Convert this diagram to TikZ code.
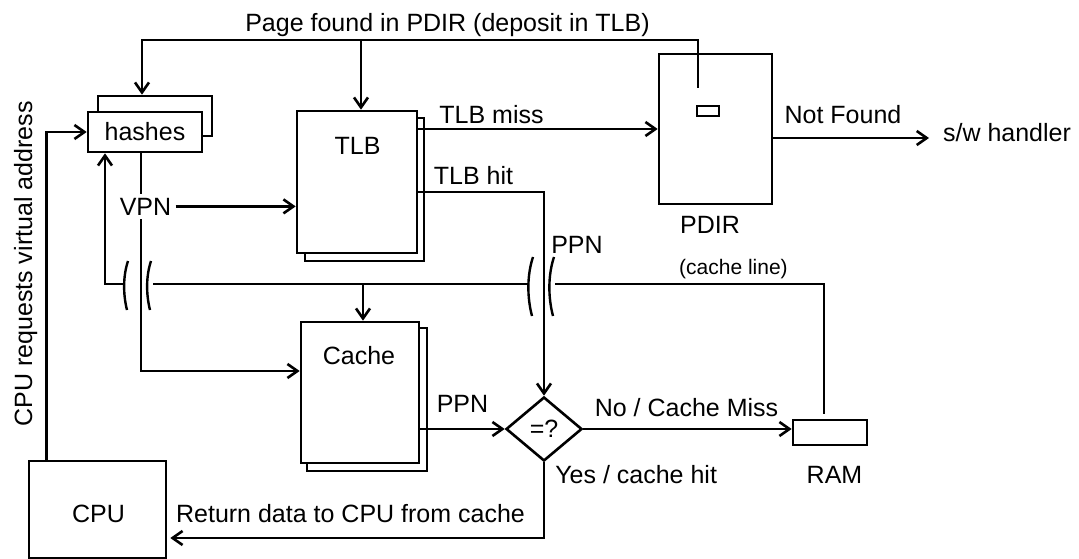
\documentclass[tikz,border=0pt]{standalone}
\usepackage{fontspec}
\setmainfont{Liberation Sans}
\usetikzlibrary{arrows.meta,shapes.geometric}
\begin{document}
\begin{tikzpicture}[x=1pt,y=-1pt,line width=2.6pt,
  txt/.style={font=\fontsize{25}{30}\selectfont},
  small/.style={font=\fontsize{21}{25}\selectfont},
  box/.style={draw,fill=white,rectangle,inner sep=0pt,txt},
  lbl/.style={txt,inner sep=0pt,anchor=base},
  arr/.style={-{Straight Barb[length=10pt,width=14pt]}},
  brk/.style={line width=2.4pt}]
\useasboundingbox (0,0) rectangle (1079,559);

% stacked units
\node[box,minimum width=114pt,minimum height=40pt] (hb) at (155,116) {};
\node[box,minimum width=114pt,minimum height=40pt] (hf) at (145,132) {hashes};
\node[box,minimum width=119pt,minimum height=143pt] (tb) at (364.5,189.5) {};
\node[box,minimum width=120pt,minimum height=142pt] (tf) at (357,182) {};
\node[lbl] (tlbt) at (357.5,155) {TLB};
\node[box,minimum width=120pt,minimum height=143pt] (cb) at (367,399.5) {};
\node[box,minimum width=118pt,minimum height=141pt] (cf) at (360,392.5) {};
\node[lbl] (cachet) at (359,364) {Cache};

% page directory
\node[box,minimum width=113pt,minimum height=150pt] (pd) at (715.5,129) {};
\node[box,minimum width=22pt,minimum height=10pt] (slot) at (708,111) {};
\node[lbl] (pdirt) at (710,233) {PDIR};

% compare, memory, processor
\node[draw,diamond,fill=white,inner sep=0pt,minimum width=76pt,minimum height=64pt,txt] (eq) at (544,429) {=?};
\node[box,minimum width=74pt,minimum height=25pt] (ram) at (830,432.5) {};
\node[lbl] (ramt) at (834.5,483) {RAM};
\node[box,minimum width=137pt,minimum height=97pt] (cpu) at (97.5,509.5) {};
\node[lbl] (cput) at (98.5,522) {CPU};

% labels
\node[lbl] (top) at (447.5,32) {Page found in PDIR (deposit in TLB)};
\node[txt,inner sep=3pt,anchor=base] (vpn) at (145.5,215) {VPN};
\node[lbl] (miss) at (491.5,124) {TLB miss};
\node[lbl] (hit) at (473.5,185) {TLB hit};
\node[lbl] (nf) at (843,124) {Not Found};
\node[lbl] (sw) at (1007,142) {s/w handler};
\node[lbl] (ppn1) at (577,253) {PPN};
\node[small,inner sep=0pt,anchor=base] (cl) at (733.5,274) {(cache line)};
\node[lbl] (ppn2) at (462.5,412) {PPN};
\node[lbl] (nomiss) at (686.5,416) {No / Cache Miss};
\node[txt,inner sep=0pt,anchor=base west] (yes) at (554,483) {Yes / cache hit};
\node[lbl] (ret) at (350.5,522) {Return data to CPU from cache};
\node[txt,inner sep=0pt,anchor=base,rotate=90] (req) at (32,264) {CPU requests virtual address};

% helper points
\coordinate (vl) at (141,300);
\coordinate (pin) at (698,88);
\coordinate (ptop) at (698,40);
\coordinate (swin) at (929,138);
\coordinate (ka) at (124,284);
\coordinate (kb) at (153,284);
\coordinate (kc) at (529,284);
\coordinate (kd) at (555,284);

% request path from the processor
\draw[arr] ([xshift=19pt]cpu.north west) |- (hf.west);
\draw (hf.south -| vl) -- (vpn.north -| vl);
\draw[arr] (vpn.south -| vl) |- (cf.west |- 0,371);
\draw[arr] (vpn.east) -- (tf.west |- vpn.east);

% directory refill loop
\draw[arr] (pin) -- (ptop) -| ([xshift=-13pt]hb.north);
\draw[arr] ([xshift=4pt]tf.north |- ptop) -- ([xshift=4pt]tf.north);

% translation results
\draw[arr] (tf.east |- 0,129) -- (pd.west |- 0,129);
\draw[arr] (tf.east |- 0,192) -| (eq.north);
\draw[arr] (pd.east |- swin) -- (swin);

% cache lookup
\draw[arr] (cf.east |- eq.west) -- (eq.west);
\draw[arr] (eq.east) -- (eq.east -| ram.west);
\draw[arr,shorten >=3pt] (eq.south) |- (cpu.east |- 0,538);

% cache line fill
\draw ([xshift=-6pt,yshift=5pt]ram.north) |- (kd);
\draw (kc) -- (kb);
\draw[arr] (ka) -| ([xshift=-40pt]hf.south);
\draw[arr] ([xshift=3pt]cf.north |- kb) -- ([xshift=3pt]cf.north);

% crossing marks
\draw[brk] (128,261) .. controls (123,276) and (123,294) .. (127,310);
\draw[brk] (151,261) .. controls (146,276) and (146,294) .. (150,310);
\draw[brk] (533,257) .. controls (527,275) and (527,297) .. (532,316);
\draw[brk] (554,257) .. controls (548,275) and (548,297) .. (553,316);
\end{tikzpicture}
\end{document}
